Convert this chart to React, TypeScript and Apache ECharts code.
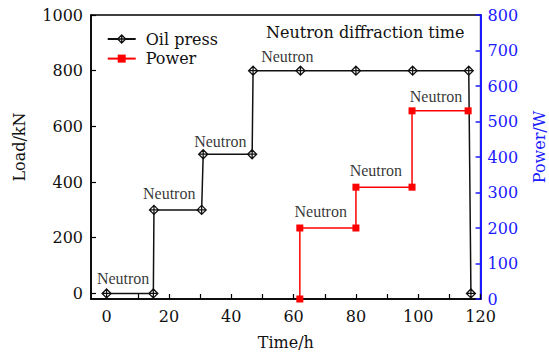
import React, { useEffect, useRef } from "react";
import * as echarts from "echarts";

// ---- data ----
const oilX = [0, 15, 15.2, 30.5, 31, 46.7, 47, 62.2, 80, 98.2, 116.2, 116.9];
const oilY = [0, 0, 300, 300, 500, 500, 800, 800, 800, 800, 800, 0];

const powerX = [62, 62, 80, 80, 98, 98, 116];
const powerY = [0, 200, 200, 315, 315, 530, 530];

const oilLabelX = [5.3, 20.1, 36.5, 58.0];
const oilLabelY = [53, 358, 546, 851];
const powerLabelX = [68.7, 86.4, 105.7];
const powerLabelY = [246, 361, 570];

const xTicks = [0, 10, 20, 30, 40, 50, 60, 70, 80, 90, 100, 110, 120];
const xLabels = [0, 20, 40, 60, 80, 100, 120];
const loadTicks = [0, 200, 400, 600, 800, 1000];

const labelText = "Neutron";
const titleText = "Neutron diffraction time";

const SERIF = "'DejaVu Serif', serif";
const TIMES = "'Liberation Serif', serif";
const BLUE = "#1a1aff";
const RED = "#ff0000";

// hollow diamond with a cross inside (stroked)
const markerPath = "path://M5 0L10 5L5 10L0 5Z M5 0L5 10 M0 5L10 5";
const oilMarkerStyle = { color: "#ffffff", borderColor: "#111", borderWidth: 1.3 };

const plain = (v: number) => String(v);

export default function App() {
  const ref = useRef<HTMLDivElement>(null);

  useEffect(() => {
    if (!ref.current) return;
    const chart = echarts.init(ref.current, null, { renderer: "svg" });

    const labelStyle = {
      show: true,
      position: "inside",
      formatter: labelText,
      fontFamily: TIMES,
      fontSize: 16,
      color: "#000",
    };

    chart.setOption({
      animation: false,
      backgroundColor: "#ffffff",
      title: {
        text: titleText,
        left: 266,
        top: 24,
        padding: 0,
        textStyle: {
          fontFamily: SERIF,
          fontSize: 16,
          fontWeight: "normal",
          color: "#111",
        },
      },
      legend: {
        data: [
          { name: "Oil press", itemStyle: oilMarkerStyle },
          { name: "Power" },
        ],
        orient: "vertical",
        left: 106.7,
        top: 31,
        padding: 0,
        itemWidth: 28,
        itemHeight: 10,
        itemGap: 3.6,
        textStyle: {
          fontFamily: SERIF,
          fontSize: 16,
          color: "#111",
          padding: [0, 0, 0, 5],
        },
      },
      grid: {
        left: 91,
        right: 68.4,
        top: 15,
        bottom: 56,
        outerBoundsMode: "none",
        containLabel: false,
        show: true,
        borderColor: "#000",
        borderWidth: 1.5,
        backgroundColor: "transparent",
      },
      xAxis: {
        type: "value",
        min: -5,
        max: 120,
        name: "Time/h",
        nameLocation: "middle",
        nameGap: 35,
        nameTextStyle: { fontFamily: SERIF, fontSize: 16, color: "#111" },
        splitLine: { show: false },
        axisLine: { show: true, onZero: false, lineStyle: { color: "#000", width: 1.5 } },
        axisTick: {
          show: true,
          inside: true,
          length: 5,
          customValues: xTicks,
          lineStyle: { color: "#000", width: 1.2 },
        },
        axisLabel: {
          customValues: xLabels,
          formatter: plain,
          margin: 9,
          lineHeight: 16,
          fontFamily: SERIF,
          fontSize: 16,
          color: "#111",
        },
      },
      yAxis: [
        {
          type: "value",
          min: -20,
          max: 1000,
          position: "left",
          name: "Load/kN",
          nameLocation: "middle",
          nameRotate: 90,
          nameGap: 64,
          nameTextStyle: {
            fontFamily: SERIF,
            fontSize: 16,
            color: "#111",
            padding: [0, 0, 0, 20],
          },
          splitLine: { show: false },
          axisLine: { show: true, onZero: false, lineStyle: { color: "#000", width: 1.5 } },
          axisTick: {
            show: true,
            inside: true,
            length: 5,
            customValues: loadTicks,
            lineStyle: { color: "#000", width: 1.2 },
          },
          axisLabel: {
            customValues: loadTicks,
            formatter: plain,
            margin: 8,
            lineHeight: 16,
            fontFamily: SERIF,
            fontSize: 16,
            color: "#111",
          },
        },
        {
          type: "value",
          min: 0,
          max: 800,
          interval: 100,
          position: "right",
          name: "Power/W",
          nameLocation: "middle",
          nameRotate: 90,
          nameGap: 51,
          nameTextStyle: {
            fontFamily: SERIF,
            fontSize: 16,
            color: BLUE,
            padding: [0, 0, 0, 20],
          },
          splitLine: { show: false },
          axisLine: { show: true, onZero: false, lineStyle: { color: BLUE, width: 2 } },
          axisTick: {
            show: true,
            inside: true,
            length: 5,
            lineStyle: { color: BLUE, width: 1.5 },
          },
          axisLabel: {
            formatter: plain,
            margin: 7,
            lineHeight: 16,
            fontFamily: SERIF,
            fontSize: 16,
            color: BLUE,
          },
        },
      ],
      series: [
        {
          name: "Oil press",
          type: "line",
          data: oilX.map((x, i) => [x, oilY[i]]),
          symbol: markerPath,
          symbolSize: 9,
          showAllSymbol: true,
          lineStyle: { color: "#111", width: 1.5 },
          itemStyle: oilMarkerStyle,
          z: 3,
        },
        {
          name: "Power",
          type: "line",
          yAxisIndex: 1,
          data: powerX.map((x, i) => [x, powerY[i]]),
          symbol: "rect",
          symbolSize: 7,
          showAllSymbol: true,
          lineStyle: { color: RED, width: 1.5 },
          itemStyle: { color: RED },
          z: 3,
        },
        {
          name: "oilLabels",
          type: "scatter",
          silent: true,
          symbolSize: 1,
          itemStyle: { color: "transparent" },
          data: oilLabelX.map((x, i) => [x, oilLabelY[i]]),
          label: labelStyle,
        },
        {
          name: "powerLabels",
          type: "scatter",
          yAxisIndex: 1,
          silent: true,
          symbolSize: 1,
          itemStyle: { color: "transparent" },
          data: powerLabelX.map((x, i) => [x, powerLabelY[i]]),
          label: labelStyle,
        },
      ],
    });

    return () => chart.dispose();
  }, []);

  return <div ref={ref} style={{ width: 549, height: 355, position: "absolute", left: 0, top: 0 }} />;
}
